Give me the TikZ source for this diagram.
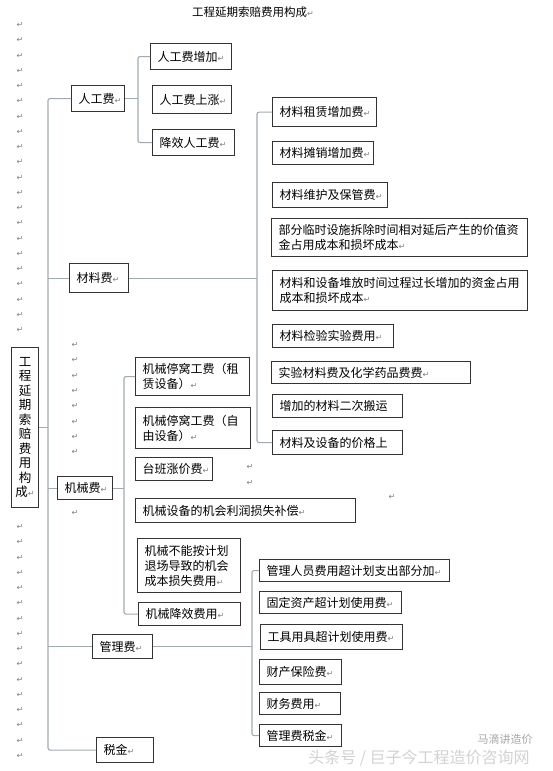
\documentclass[tikz,border=0pt]{standalone}
\usepackage{fontspec}
\setmainfont{Noto Sans CJK SC}
\newfontfamily\dejavu{DejaVu Sans}
\definecolor{linkgray}{RGB}{160,170,180}
\newcommand\retmark{{\dejavu\fontsize{8}{8}\selectfont\color{gray}↵}}

\begin{document}
\begin{tikzpicture}[x=1pt, y=-1pt,
        box/.style={draw=black!80, line width=1.1pt, fill=white, anchor=north west,
            inner xsep=7pt, inner ysep=1pt, align=left,
            font=\fontsize{12}{15}\selectfont},
        link/.style={draw=linkgray, line width=1.1pt, rounded corners=2pt},
        pmark/.style={inner sep=0pt, font=\dejavu\fontsize{8}{8}\selectfont, text=gray}]
    \useasboundingbox (0,0) rectangle (553,771);

    % paragraph marks
    \foreach \k in {0,...,20}
        \node[pmark] (pa\k) at (20, 25+15.25*\k) {↵};
    \foreach \k in {0,...,15}
        \node[pmark] (pb\k) at (20, 527+15.25*\k) {↵};
    \foreach \k in {0,...,7}
        \node[pmark] (pc\k) at (75, 345+15.3*\k) {↵};
    \node[pmark] (pd1) at (75,513) {↵};
    \node[pmark] (pd2) at (250,467) {↵};
    \node[pmark] (pd3) at (250,483) {↵};
    \node[pmark] (pd4) at (392,497) {↵};

    % title
    \node[font=\fontsize{11.5}{12}\selectfont] (title) at (253,12) {工程延期索赔费用构成\retmark};

    % root
    \node[box, inner xsep=0pt, text width=27pt, align=center, minimum height=160pt,
        font=\fontsize{12.5}{14.5}\selectfont] (root) at (11,347)
        {工\\程\\延\\期\\索\\赔\\费\\用\\构\\成\retmark};

    % first level
    \node[box, text width=39pt, minimum height=26pt] (lab) at (71,85) {人工费\retmark};
    \node[box, text width=45pt, minimum height=29pt] (mat) at (69,263) {材料费\retmark};
    \node[box, text width=41pt, minimum height=23pt] (mach) at (57,476) {机械费\retmark};
    \node[box, text width=46pt, minimum height=24pt] (mgmt) at (92,634) {管理费\retmark};
    \node[box, text width=43pt, minimum height=25pt] (tax) at (96,737) {税金\retmark};

    % labour
    \node[box, text width=67pt, minimum height=26pt] (lab1) at (150,43) {人工费增加\retmark};
    \node[box, text width=65pt, minimum height=28pt] (lab2) at (152,85) {人工费上涨\retmark};
    \node[box, text width=68pt, minimum height=26pt] (lab3) at (152,129) {降效人工费\retmark};

    % material
    \node[box, text width=90pt, minimum height=29pt] (mat1) at (272,97) {材料租赁增加费\retmark};
    \node[box, text width=87pt, minimum height=23pt] (mat2) at (272,141) {材料摊销增加费\retmark};
    \node[box, text width=101pt, minimum height=25pt] (mat3) at (272,182) {材料维护及保管费\retmark};
    \node[box, text width=242pt, minimum height=38pt] (mat4) at (271,218)
        {部分临时设施拆除时间相对延后产生的价值资\\金占用成本和损坏成本\retmark};
    \node[box, text width=241pt, minimum height=40pt] (mat5) at (272,270)
        {材料和设备堆放时间过程过长增加的资金占用\\成本和损坏成本\retmark};
    \node[box, text width=107pt, minimum height=23pt] (mat6) at (272,324) {材料检验实验费用\retmark};
    \node[box, text width=185pt, minimum height=22pt] (mat7) at (271,361) {实验材料费及化学药品费费\retmark};
    \node[box, text width=116pt, minimum height=23pt] (mat8) at (272,394) {增加的材料二次搬运};
    \node[box, text width=116pt, minimum height=24pt] (mat9) at (272,430) {材料及设备的价格上};

    % machinery
    \node[box, text width=100pt, minimum height=38pt] (mach1) at (135,357) {机械停窝工费（租\\赁设备）\retmark};
    \node[box, text width=101pt, minimum height=41pt] (mach2) at (135,407) {机械停窝工费（自\\由设备）\retmark};
    \node[box, text width=63pt, minimum height=23pt] (mach3) at (135,457) {台班涨价费\retmark};
    \node[box, text width=206pt, minimum height=24pt] (mach4) at (135,498) {机械设备的机会利润损失补偿\retmark};
    \node[box, text width=89pt, minimum height=54pt] (mach5) at (137,538)
        {机械不能按计划\\退场导致的机会\\成本损失费用\retmark};
    \node[box, text width=88pt, minimum height=23pt] (mach6) at (138,602) {机械降效费用\retmark};

    % management
    \node[box, text width=176pt, minimum height=22pt] (mgmt1) at (259,559) {管理人员费用超计划支出部分加\retmark};
    \node[box, text width=128pt, minimum height=22pt] (mgmt2) at (259,591) {固定资产超计划使用费\retmark};
    \node[box, text width=128pt, minimum height=25pt] (mgmt3) at (260,624) {工具用具超计划使用费\retmark};
    \node[box, text width=68pt, minimum height=25pt] (mgmt4) at (259,659) {财产保险费\retmark};
    \node[box, text width=67pt, minimum height=22pt] (mgmt5) at (259,692) {财务费用\retmark};
    \node[box, text width=68pt, minimum height=22pt] (mgmt6) at (259,724) {管理费税金\retmark};

    % trunk
    \coordinate (trunk) at (48,0);
    \draw[link] (lab.west) -- (lab.west -| trunk) -- (tax.west -| trunk) -- (tax.west);
    \draw[link] (root.east) -- (root.east -| trunk);
    \foreach \n in {mat, mach, mgmt}
        \draw[link] (\n.west -| trunk) -- (\n.west);

    % brackets
    \foreach \p/\a/\b/\x in {lab/lab1/lab3/138, mat/mat1/mat9/257, mach/mach1/mach6/124, mgmt/mgmt1/mgmt6/252} {
        \coordinate (\p-x) at (\x,0);
        \draw[link] (\a.west) -- (\a.west -| \p-x) -- (\b.west -| \p-x) -- (\b.west);
        \draw[link] (\p.east) -- (\p.east -| \p-x);
    }

    % watermark
    \node[font=\fontsize{16}{16}\selectfont, text=gray!35] (wm1) at (419,758) {头条号 / 巨子今工程造价咨询网};
    \node[font=\fontsize{11}{11}\selectfont, text=gray!70] (wm2) at (505,739) {马滴讲造价};
\end{tikzpicture}
\end{document}
